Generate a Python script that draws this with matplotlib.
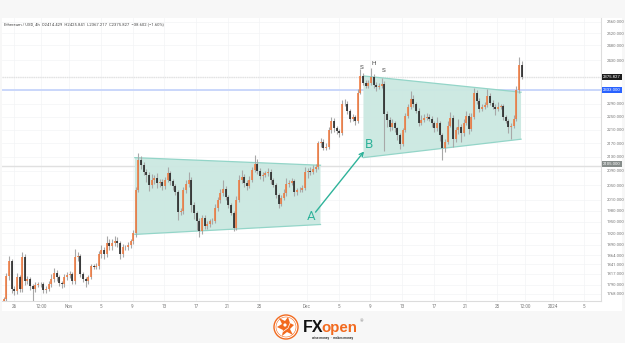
import matplotlib
matplotlib.use("Agg")
import matplotlib.pyplot as plt
import numpy as np
import pandas as pd
from matplotlib.patches import Circle, Polygon, Rectangle

plt.rcParams['font.family'] = ['Roboto', 'DejaVu Sans']

# 8 hour bars, ETH/USD
closes = [
    1756, 1811, 1848, 1780, 1775, 1809, 1780, 1858, 1799, 1804,
    1787, 1780, 1790, 1792, 1792, 1777, 1780, 1792, 1804, 1819,
    1809, 1794, 1792, 1809, 1814, 1816, 1799, 1858, 1861, 1816,
    1804, 1799, 1809, 1836, 1834, 1836, 1866, 1876, 1866, 1896,
    1886, 1894, 1901, 1894, 1866, 1884, 1884, 1889, 1899, 1921,
    2036, 2120, 2106, 2086, 2078, 2050, 2064, 2069, 2056, 2058,
    2047, 2064, 2083, 2061, 2047, 2031, 1977, 1980, 2036, 2053,
    2064, 1996, 1974, 1951, 1925, 1961, 1940, 1943, 1951, 1953,
    1988, 2009, 2028, 2039, 2017, 1996, 1974, 1935, 2009, 2064,
    2072, 2056, 2047, 2064, 2092, 2111, 2089, 2075, 2078, 2083,
    2086, 2064, 2050, 2023, 1998, 2014, 2028, 2053, 2056, 2061,
    2031, 2036, 2036, 2042, 2086, 2089, 2086, 2094, 2100, 2170,
    2175, 2157, 2160, 2208, 2238, 2214, 2205, 2199, 2290, 2290,
    2268, 2244, 2250, 2238, 2325, 2378, 2356, 2346, 2356, 2375,
    2349, 2343, 2346, 2352, 2259, 2241, 2217, 2232, 2214, 2193,
    2169, 2208, 2253, 2280, 2306, 2290, 2268, 2232, 2241, 2247,
    2250, 2244, 2232, 2214, 2232, 2193, 2157, 2175, 2223, 2247,
    2184, 2208, 2220, 2199, 2232, 2253, 2211, 2250, 2322, 2299,
    2274, 2280, 2286, 2315, 2293, 2280, 2274, 2280, 2283, 2250,
    2238, 2217, 2223, 2244, 2333, 2414.429, 2375.827,
]
upper_wicks = [
    4, 8, 14, 6, 8, 10, 6, 14, 8, 8,
    5, 6, 8, 6, 5, 4, 6, 8, 12, 12,
    8, 6, 6, 8, 8, 8, 6, 22, 10, 6,
    5, 5, 6, 6, 5, 8, 8, 14, 8, 18,
    8, 10, 12, 8, 6, 8, 6, 8, 6, 8,
    8, 22, 14, 8, 8, 10, 16, 8, 14, 10,
    8, 10, 18, 8, 6, 6, 4, 6, 10, 10,
    24, 8, 8, 6, 8, 8, 6, 8, 6, 6,
    10, 8, 12, 24, 8, 6, 6, 6, 10, 14,
    20, 10, 8, 12, 8, 26, 12, 8, 10, 8,
    12, 8, 6, 6, 6, 8, 10, 16, 8, 10,
    6, 6, 8, 8, 16, 8, 12, 14, 10, 8,
    10, 8, 10, 10, 12, 8, 8, 6, 10, 16,
    8, 6, 8, 6, 10, 22, 8, 10, 8, 28,
    10, 8, 10, 18, 10, 8, 8, 10, 6, 6,
    6, 8, 8, 10, 24, 10, 6, 8, 14, 10,
    12, 8, 8, 6, 16, 6, 6, 8, 14, 16,
    8, 12, 24, 8, 10, 14, 8, 10, 18, 12,
    8, 8, 8, 22, 10, 8, 8, 14, 6, 6,
    6, 6, 8, 10, 12, 24, 11.412,
]
lower_wicks = [
    6, 6, 10, 10, 10, 8, 8, 8, 10, 8,
    10, 29, 8, 6, 8, 8, 6, 6, 8, 8,
    10, 8, 10, 8, 8, 8, 8, 6, 8, 8,
    8, 14, 8, 6, 6, 6, 6, 10, 12, 6,
    10, 8, 6, 10, 12, 6, 8, 8, 6, 8,
    10, 6, 10, 8, 20, 16, 8, 12, 14, 10,
    10, 8, 6, 12, 10, 8, 22, 10, 8, 8,
    8, 20, 16, 22, 16, 8, 8, 8, 6, 6,
    6, 8, 8, 8, 8, 8, 6, 10, 6, 6,
    8, 12, 10, 6, 6, 6, 8, 8, 14, 6,
    8, 10, 6, 8, 12, 6, 6, 8, 8, 6,
    12, 8, 6, 6, 6, 16, 8, 6, 6, 6,
    10, 8, 6, 6, 8, 10, 8, 10, 6, 8,
    10, 10, 8, 14, 6, 6, 8, 8, 6, 8,
    10, 12, 8, 8, 113, 24, 12, 8, 10, 12,
    16, 8, 6, 6, 6, 10, 8, 10, 8, 8,
    8, 8, 12, 10, 8, 16, 37, 12, 6, 6,
    24, 10, 10, 24, 8, 6, 14, 6, 6, 10,
    10, 8, 8, 6, 8, 8, 20, 8, 6, 10,
    8, 18, 34, 8, 8, 8, 8.61,
]

bar_times = pd.date_range('2023-10-23 18:00', periods=len(closes), freq='8h')

y_ticks = [2560, 2520, 2480, 2430, 2290, 2250, 2210, 2170, 2130, 2090, 2050,
           2010, 1980, 1950, 1920, 1890, 1864, 1841, 1817, 1790, 1768]
x_tick_times = ['2023-10-25 02:00', '2023-10-28 12:00', '2023-11-01', '2023-11-05',
                '2023-11-09', '2023-11-13', '2023-11-17', '2023-11-21', '2023-11-25',
                '2023-12-01', '2023-12-05', '2023-12-09', '2023-12-13', '2023-12-17',
                '2023-12-21', '2023-12-25', '2023-12-28 12:00', '2024-01-01', '2024-01-05']
x_tick_labels = ['26', '12:00', 'Nov', '5', '9', '13', '17', '21', '25', 'Dec',
                 '5', '9', '13', '17', '21', '25', '12:00', '2024', '5']

last_price = 2375.827
blue_level = 2333.0
low_level = 2105.0

channel_a_times = ['2023-11-09 07:00', '2023-12-02 17:00', '2023-12-02 17:00', '2023-11-09 07:00']
channel_a_prices = [2128, 2106, 1943, 1917]
channel_b_times = ['2023-12-08 03:00', '2023-12-28 00:00', '2023-12-28 00:00', '2023-12-08 03:00']
channel_b_prices = [2378, 2326, 2182, 2128]

TEAL = '#2fb39a'
UP = '#f0783c'
DOWN = '#1f1f1f'
AXIS_TEXT = '#7a7a7a'

W, H = 625, 343
fig = plt.figure(figsize=(W / 100, H / 100), dpi=100, facecolor='#f7f7f7')

# page layer in pixel coordinates: white panel and the logo
page = fig.add_axes([0, 0, 1, 1], zorder=0)
page.set_xlim(0, W)
page.set_ylim(H, 0)
page.axis('off')
page.add_patch(Rectangle((2, 18), 620, 293, fc='white', ec='none'))

ax = fig.add_axes([2 / W, 1 - 301 / H, 599 / W, 283 / H], zorder=1)
ax.patch.set_alpha(0)
ax.set_yscale('log')
ax.set_ylim(1751, 2573)
ax.set_xlim(pd.Timestamp('2023-10-23 13:00'), pd.Timestamp('2024-01-07 02:00'))

ax.set_yticks(y_ticks + [last_price, blue_level, low_level])
ax.set_yticklabels([f'{t:.3f}' for t in y_ticks] + ['', '', ''])
ax.minorticks_off()
ax.yaxis.tick_right()
ax.set_xticks([pd.Timestamp(t) for t in x_tick_times])
ax.set_xticklabels(x_tick_labels)
ax.tick_params(axis='y', length=0, labelsize=3.1, labelcolor=AXIS_TEXT, pad=4.2)
ax.tick_params(axis='x', length=0, labelsize=3.3, labelcolor=AXIS_TEXT, pad=2.5)
ax.grid(True, color='#f3f4f6', linewidth=0.5)
ax.set_axisbelow(True)
for name, spine in ax.spines.items():
    spine.set_visible(name in ('bottom', 'right'))
    spine.set_color('#dcdcdc')
    spine.set_linewidth(0.8)

# price levels
ax.axhline(last_price, color='#e2e2e2', linewidth=1.0, linestyle=(0, (1, 0.6)), zorder=1)
ax.axhline(blue_level, color='#c6d4fb', linewidth=1.3, zorder=1)
ax.axhline(low_level, color='#e0e0e0', linewidth=1.0, zorder=1)

# channels
for times, prices in ((channel_a_times, channel_a_prices), (channel_b_times, channel_b_prices)):
    xs = [pd.Timestamp(t) for t in times]
    ax.fill(xs, prices, color='#cbe8e1', alpha=0.95, linewidth=0, zorder=2)
    ax.plot(xs[:2], prices[:2], color='#93d5c8', linewidth=0.9, zorder=2.1)
    ax.plot(xs[2:], prices[2:], color='#93d5c8', linewidth=0.9, zorder=2.1)

# candles
closes_arr = np.array(closes)
opens_arr = np.concatenate(([1750.0], closes_arr[:-1]))
tops = np.maximum(opens_arr, closes_arr)
bottoms = np.minimum(opens_arr, closes_arr)
highs = tops + np.array(upper_wicks)
lows = bottoms - np.array(lower_wicks)
colors = [UP if c >= o else DOWN for o, c in zip(opens_arr, closes_arr)]
ax.vlines(bar_times, lows, highs, color='#a8a8a8', linewidth=0.8, zorder=3)
ax.vlines(bar_times, bottoms, tops, color=colors, linewidth=1.15, zorder=4)

# pattern marks
ax.annotate('', xy=(pd.Timestamp('2023-12-08 05:00'), 2146),
            xytext=(pd.Timestamp('2023-12-02 02:00'), 1976),
            arrowprops=dict(arrowstyle='->', color=TEAL, lw=1.0, mutation_scale=7,
                            shrinkA=0, shrinkB=0), zorder=5)
ax.text(pd.Timestamp('2023-12-01 14:00'), 1965, 'A', color=TEAL, fontsize=9.5,
        ha='center', va='center', zorder=5)
ax.text(pd.Timestamp('2023-12-08 21:00'), 2167, 'B', color=TEAL, fontsize=9.5,
        ha='center', va='center', zorder=5)
for when, price, letter in (('2023-12-07 21:00', 2406, 'S'),
                            ('2023-12-09 10:00', 2419, 'H'),
                            ('2023-12-10 17:00', 2396, 'S')):
    ax.text(pd.Timestamp(when), price, letter, color='#444444', fontsize=4.6,
            ha='center', va='center', zorder=5)

# right axis value tags
overlay = fig.add_axes([0, 0, 1, 1], zorder=2)
overlay.set_xlim(0, W)
overlay.set_ylim(H, 0)
overlay.axis('off')
overlay.patch.set_alpha(0)
for y, txt, bg in ((77, f'{last_price:.3f}', '#1c1c1c'),
                   (90, f'{blue_level:.3f}', '#2962ff'),
                   (164, f'{low_level:.3f}', '#868c8a')):
    overlay.add_patch(Rectangle((602, y - 3), 20, 6, fc=bg, ec='none'))
    overlay.text(612, y, txt, color='white', fontsize=3.1, ha='center', va='center')

overlay.text(4.5, 24.5, 'Ethereum / USD, 4h  O2414.429  H2425.841  L2367.217  C2375.827  −38.602 (−1.60%)',
             color='#4a4a4a', fontsize=2.95, ha='left', va='center')

# logo
ORANGE = '#f26a1f'
overlay.add_patch(Circle((286, 327), 12, fc='white', ec=ORANGE, lw=1.0))
overlay.add_patch(Circle((286, 327), 10, fc='none', ec=ORANGE, lw=0.4))
overlay.add_patch(Polygon([(279, 318), (285, 321), (288, 317), (290, 323), (294, 325),
                           (290, 329), (293, 335), (287, 332), (282, 336), (283, 330),
                           (277, 327), (282, 324)], fc=ORANGE, ec='none'))
overlay.add_patch(Circle((285, 325), 1.6, fc='white', ec='none'))
overlay.plot([281, 288, 291], [333, 328, 321], color='white', linewidth=0.5)
overlay.text(303, 332, 'FX', color='#111111', fontsize=11.5, fontweight='bold',
             family=['Liberation Sans', 'DejaVu Sans'], ha='left', va='baseline')
overlay.text(321.5, 332, 'open', color=ORANGE, fontsize=10.8, fontweight='bold',
             family=['Liberation Sans', 'DejaVu Sans'], ha='left', va='baseline')
overlay.text(362, 321.5, '®', color='#777777', fontsize=3.2, ha='center', va='center')
overlay.text(333, 338.5, 'wise money  ·  makes money', color='#333333', fontsize=2.3,
             fontweight='bold', ha='center', va='center')

fig.savefig('out.png', dpi=100, facecolor=fig.get_facecolor())
